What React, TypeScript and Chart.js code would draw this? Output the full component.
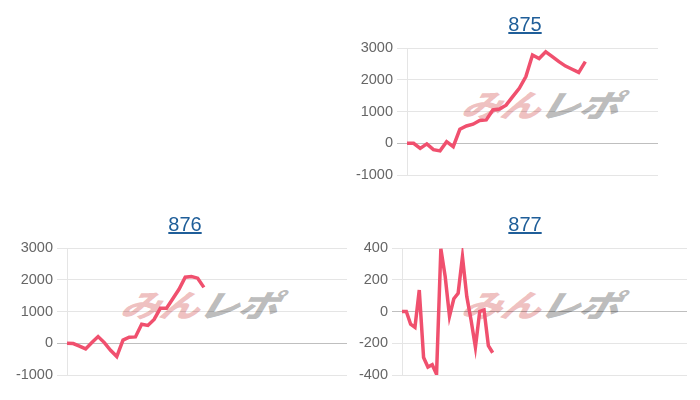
import React, { useEffect, useRef } from 'react';
import { Chart, registerables } from 'chart.js';

Chart.register(...registerables);

// ---- data ----
const titles = ['875', '876', '877'];

const values875 = [0, 0, -160, -20, -200, -240, 50, -110, 440, 545, 600, 715, 735, 1050, 1080, 1200, 1470, 1730, 2100, 2780, 2670, 2880, 2730, 2570, 2430, 2330, 2230, 2570];
const values876 = [0, -10, -90, -180, 20, 210, 20, -220, -420, 100, 190, 200, 600, 560, 750, 1100, 1100, 1400, 1700, 2080, 2100, 2050, 1760];
const values877 = [0, 0, -80, -100, 135, -290, -350, -335, -395, 395, 220, -30, 80, 115, 345, 95, -55, -225, 0, 10, -215, -260];

const slotCount875 = 39;
const slotCount876 = 46;
const slotCount877 = 67;

const labels875 = Array.from({ length: slotCount875 }, (_, i) => String(i + 1));
const labels876 = Array.from({ length: slotCount876 }, (_, i) => String(i + 1));
const labels877 = Array.from({ length: slotCount877 }, (_, i) => String(i + 1));

const yRange875 = { min: -1000, max: 3000, step: 1000 };
const yRange876 = { min: -1000, max: 3000, step: 1000 };
const yRange877 = { min: -400, max: 400, step: 200 };

const LINE_COLOR = '#f0506e';
const AXIS_W = 60;
const PAD_V = 14;

type Box = { left: number; top: number; width: number; height: number };

function LineChart({ labels, values, range, box }: { labels: string[]; values: number[]; range: { min: number; max: number; step: number }; box: Box }) {
  const ref = useRef<HTMLCanvasElement | null>(null);
  useEffect(() => {
    if (!ref.current) return;
    const chart = new Chart(ref.current, {
      type: 'line',
      data: {
        labels,
        datasets: [
          {
            data: values,
            borderColor: LINE_COLOR,
            backgroundColor: LINE_COLOR,
            borderWidth: 3.5,
            pointRadius: 0,
            pointHoverRadius: 0,
            tension: 0,
            fill: false,
          },
        ],
      },
      options: {
        animation: false,
        responsive: false,
        events: [],
        layout: { padding: { top: PAD_V, bottom: PAD_V, left: 0, right: 0 } },
        plugins: { legend: { display: false }, tooltip: { enabled: false }, title: { display: false } },
        scales: {
          x: { display: false },
          y: {
            min: range.min,
            max: range.max,
            afterFit: (scale: any) => {
              scale.width = AXIS_W;
            },
            ticks: {
              stepSize: range.step,
              color: '#666',
              padding: 4,
              callback: (v: any) => String(v),
              font: { family: 'Arial, "Liberation Sans", sans-serif', size: 14.5 },
            },
            grid: {
              color: (ctx: any) => (ctx.tick && ctx.tick.value === 0 ? 'rgba(0,0,0,0.25)' : 'rgba(0,0,0,0.1)'),
              tickLength: 10,
              drawTicks: true,
            },
            border: { color: 'rgba(0,0,0,0.1)' },
          },
        },
      },
    });
    return () => chart.destroy();
  }, []);
  return (
    <canvas
      ref={ref}
      width={box.width}
      height={box.height}
      style={{ position: 'absolute', left: box.left, top: box.top, width: box.width, height: box.height, zIndex: 2 }}
    />
  );
}

function Title({ text, cx, top }: { text: string; cx: number; top: number }) {
  return (
    <div style={{ position: 'absolute', left: cx - 60, top, width: 120, textAlign: 'center', zIndex: 3 }}>
      <a
        href="#"
        onClick={(e) => e.preventDefault()}
        style={{ color: '#1f5e99', fontFamily: 'Arial, "Liberation Sans", sans-serif', fontSize: 20, textDecoration: 'underline' }}
      >
        {text}
      </a>
    </div>
  );
}

function Watermark({ cx, cy }: { cx: number; cy: number }) {
  return (
    <div
      style={{
        position: 'absolute',
        left: cx - 80,
        top: cy - 22,
        width: 160,
        height: 44,
        lineHeight: '44px',
        textAlign: 'center',
        whiteSpace: 'nowrap',
        fontFamily: '"Noto Sans CJK JP", sans-serif',
        fontWeight: 900,
        fontStyle: 'italic',
        fontSize: 31,
        transform: 'scaleX(1.3) skewX(-12deg)',
        zIndex: 1,
        letterSpacing: -1,
      }}
    >
      <span style={{ color: 'rgba(225,140,140,0.55)' }}>みん</span>
      <span style={{ color: 'rgba(150,150,150,0.65)' }}>レポ</span>
    </div>
  );
}

export default function App() {
  return (
    <div style={{ position: 'absolute', left: 0, top: 0, width: 700, height: 400, background: '#fff', overflow: 'hidden' }}>
      <Title text={titles[0]} cx={525} top={13} />
      <Watermark cx={541} cy={104} />
      <LineChart labels={labels875} values={values875} range={yRange875} box={{ left: 347, top: 48 - PAD_V, width: 658 - 407 + AXIS_W, height: 127 + 2 * PAD_V }} />

      <Title text={titles[1]} cx={185} top={213} />
      <Watermark cx={200} cy={304} />
      <LineChart labels={labels876} values={values876} range={yRange876} box={{ left: 7, top: 248 - PAD_V, width: 347 - 67 + AXIS_W, height: 127 + 2 * PAD_V }} />

      <Title text={titles[2]} cx={525} top={213} />
      <Watermark cx={541} cy={304} />
      <LineChart labels={labels877} values={values877} range={yRange877} box={{ left: 342, top: 248 - PAD_V, width: 687 - 402 + AXIS_W, height: 127 + 2 * PAD_V }} />
    </div>
  );
}
